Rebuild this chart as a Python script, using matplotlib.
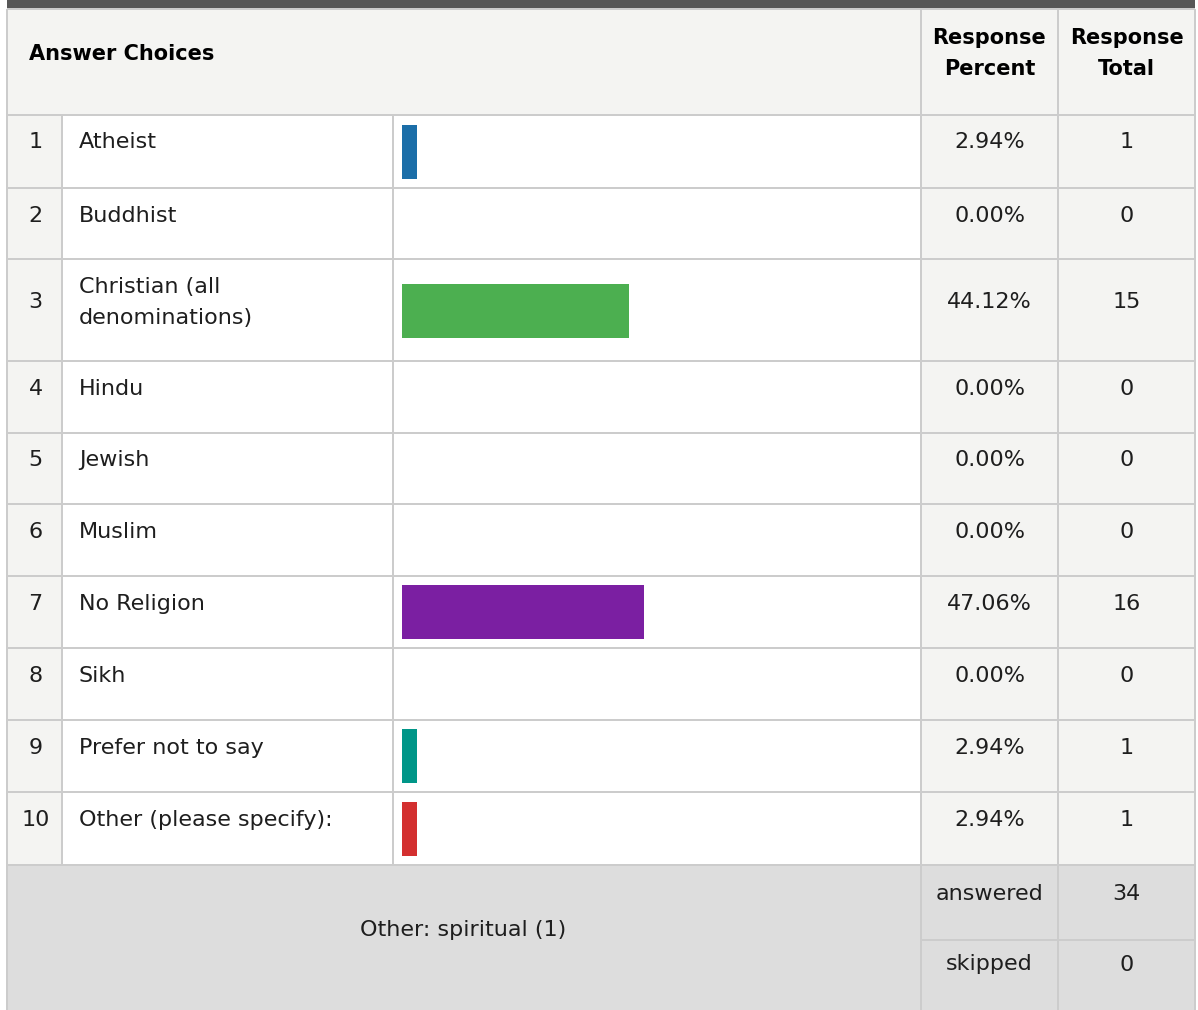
import matplotlib
matplotlib.use("Agg")
import matplotlib.pyplot as plt
from matplotlib.patches import Rectangle

# ---- survey data ----
choices = ["Atheist", "Buddhist", "Christian (all\ndenominations)", "Hindu", "Jewish",
           "Muslim", "No Religion", "Sikh", "Prefer not to say", "Other (please specify):"]
percents = [2.94, 0.00, 44.12, 0.00, 0.00, 0.00, 47.06, 0.00, 2.94, 2.94]
totals = [1, 0, 15, 0, 0, 0, 16, 0, 1, 1]
bar_colors = ["#1b6ea8", "#f9a825", "#4caf50", "#ff7043", "#5c6bc0",
              "#8d6e63", "#7b1fa2", "#26a69a", "#009688", "#d32f2f"]
header_left = "Answer Choices"
header_pct = "Response\nPercent"
header_tot = "Response\nTotal"
other_note = "Other: spiritual (1)"
answered_count = 34
skipped_count = 0

# ---- layout (pixels) ----
W, H = 1198, 1010
X_L, X_NUM, X_BAR, X_PCT, X_TOT, X_R = 7, 62, 393, 921, 1058, 1195
HEAD_TOP = 9
row_edges = [114.5, 187.5, 259, 361, 432.5, 504, 575.5, 647.5, 719.5, 791.5, 864.5]
FOOT_MID = 940

GRID = "#cccccc"
LIGHT = "#f4f4f2"
FOOT = "#dddddd"
TXT = "#1e1e1e"
LW = 2 * 72 / 100
FS = 16
FSB = 15
FAMILY = "DejaVu Sans"

fig = plt.figure(figsize=(W / 100, H / 100), dpi=100)
ax = fig.add_axes([0, 0, 1, 1])
ax.set_xlim(0, W)
ax.set_ylim(H, 0)
ax.axis("off")


def rect(x0, y0, x1, y1, color, z=0):
    ax.add_patch(Rectangle((x0, y0), x1 - x0, y1 - y0, facecolor=color,
                           edgecolor="none", zorder=z))


def hline(y, x0, x1, color=GRID):
    ax.plot([x0, x1], [y, y], color=color, lw=LW, solid_capstyle="butt", zorder=2)


def vline(x, y0, y1, color=GRID):
    ax.plot([x, x], [y0, y1], color=color, lw=LW, solid_capstyle="butt", zorder=2)


# header band
rect(X_L, 0, X_R, 8, "#575757", 1)
rect(X_L, HEAD_TOP, X_R, row_edges[0], LIGHT)
# body column fills
top, bot = row_edges[0], row_edges[-1]
rect(X_L, top, X_NUM, bot, LIGHT)
rect(X_NUM, top, X_PCT, bot, "white")
rect(X_PCT, top, X_R, bot, LIGHT)
# footer
rect(X_L, bot, X_R, H, FOOT)

# grid lines
hline(HEAD_TOP, X_L, X_R)
for y in row_edges:
    hline(y, X_L, X_R)
hline(FOOT_MID, X_PCT, X_R)
vline(X_L, HEAD_TOP, H)
vline(X_R, HEAD_TOP, H)
vline(X_NUM, row_edges[0], row_edges[-1])
vline(X_BAR, row_edges[0], row_edges[-1])
vline(X_PCT, HEAD_TOP, H)
vline(X_TOT, HEAD_TOP, H)

# header text
ax.text(29, 60, header_left, fontsize=FSB, fontweight="bold", color="black",
        family=FAMILY, ha="left", va="baseline")
for xc, label in [((X_PCT + X_TOT) / 2, header_pct), ((X_TOT + X_R) / 2, header_tot)]:
    for k, line in enumerate(label.split("\n")):
        ax.text(xc, 44 + 31 * k, line, fontsize=FSB, fontweight="bold", color="black",
                family=FAMILY, ha="center", va="baseline")

# row text
for i, (name, pct, tot) in enumerate(zip(choices, percents, totals)):
    rtop = row_edges[i]
    lines = name.split("\n")
    for k, line in enumerate(lines):
        ax.text(79, rtop + 34 + 31 * k, line, fontsize=FS, color=TXT, family=FAMILY,
                ha="left", va="baseline")
    yb = rtop + 34 + (len(lines) - 1) * 31 / 2
    ax.text((X_L + X_NUM) / 2 + 1, yb, str(i + 1), fontsize=FS, color=TXT, family=FAMILY,
            ha="center", va="baseline")
    ax.text((X_PCT + X_TOT) / 2, yb, f"{pct:.2f}%", fontsize=FS, color=TXT, family=FAMILY,
            ha="center", va="baseline")
    ax.text((X_TOT + X_R) / 2, yb, str(tot), fontsize=FS, color=TXT, family=FAMILY,
            ha="center", va="baseline")

# footer text
ax.text(463, 936, other_note, fontsize=FS, color=TXT, family=FAMILY, ha="center", va="baseline")
ax.text((X_PCT + X_TOT) / 2, 900, "answered", fontsize=FS, color=TXT, family=FAMILY,
        ha="center", va="baseline")
ax.text((X_PCT + X_TOT) / 2, 970, "skipped", fontsize=FS, color=TXT, family=FAMILY,
        ha="center", va="baseline")
ax.text((X_TOT + X_R) / 2, 900, str(answered_count), fontsize=FS, color=TXT, family=FAMILY,
        ha="center", va="baseline")
ax.text((X_TOT + X_R) / 2, 971, str(skipped_count), fontsize=FS, color=TXT, family=FAMILY,
        ha="center", va="baseline")

# bars: percent scale spanning the bar column
BAR_X0, BAR_X1 = 402, 916
bax = fig.add_axes([BAR_X0 / W, 0, (BAR_X1 - BAR_X0) / W, 1])
bax.set_xlim(0, 100)
bax.set_ylim(H, 0)
bax.axis("off")
bax.patch.set_alpha(0)
centers = [(row_edges[i] + row_edges[i + 1]) / 2 + 0.75 for i in range(len(choices))]
bax.barh(centers, percents, height=54, color=bar_colors, linewidth=0, zorder=3)

fig.savefig("out.png", dpi=100)
